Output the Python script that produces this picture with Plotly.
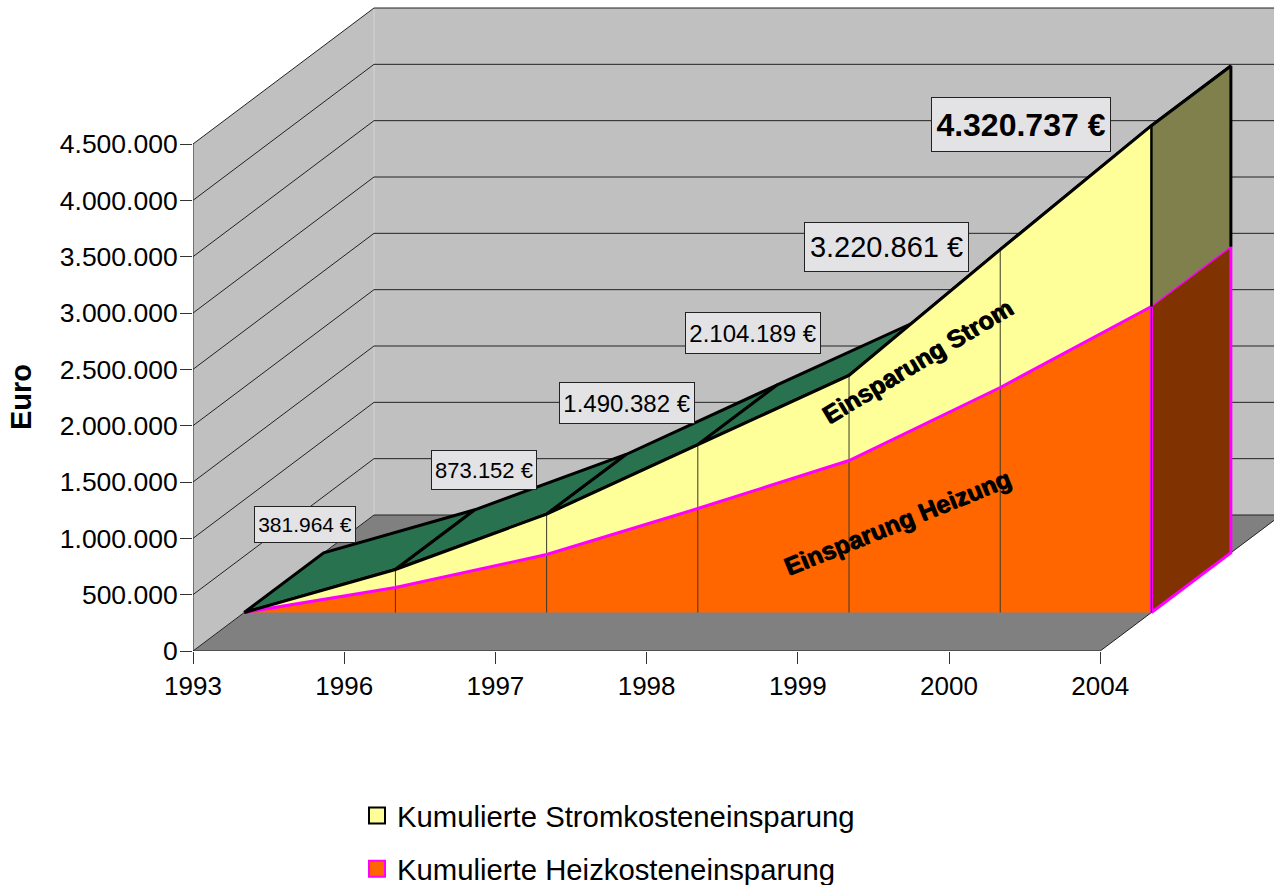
import plotly.graph_objects as go

# ---- data ----
categories = ["1993", "1996", "1997", "1998", "1999", "2000", "2004"]
total_savings = [0, 381964, 873152, 1490382, 2104189, 3220861, 4320737]
heating_savings = [0, 222000, 515000, 923000, 1349000, 1997000, 2716000]
y_ticks = [0, 500000, 1000000, 1500000, 2000000, 2500000, 3000000, 3500000, 4000000, 4500000]
y_tick_labels = ["0", "500.000", "1.000.000", "1.500.000", "2.000.000", "2.500.000",
                 "3.000.000", "3.500.000", "4.000.000", "4.500.000"]
value_labels = ["381.964 €", "873.152 €", "1.490.382 €", "2.104.189 €", "3.220.861 €", "4.320.737 €"]

# ---- pseudo-3D geometry (axis units) ----
W, H = 1274, 885
LEFT, BOTTOM_PX = 193, 651
X_UNIT = 151.2
Y_UNIT = 507 / 4500000
WALL_DX = 181 / X_UNIT
WALL_DY = 136 / Y_UNIT
D_FRONT, D_BACK = 0.283, 0.722


def pr(i, v, d):
    return i + d * WALL_DX, v + d * WALL_DY


def poly(points):
    return [p[0] for p in points], [p[1] for p in points]


def front(i, v):
    return pr(i, v, D_FRONT)


def back(i, v):
    return pr(i, v, D_BACK)


n = len(categories)
last = n - 1
fig = go.Figure()


def fill(points, color, line=None, width=0):
    x, y = poly(points + points[:1])
    fig.add_trace(go.Scatter(x=x, y=y, mode="lines", fill="toself", fillcolor=color,
                             line=dict(color=line or color, width=width), hoverinfo="skip",
                             showlegend=False))


def stroke(points, color, width):
    x, y = poly(points)
    fig.add_trace(go.Scatter(x=x, y=y, mode="lines", line=dict(color=color, width=width),
                             hoverinfo="skip", showlegend=False))


top_val = y_ticks[-1]
# walls and floor
fill([pr(0, 0, 0), pr(0, 0, 1), pr(0, top_val, 1), pr(0, top_val, 0)], "#c0c0c0")
fill([pr(0, 0, 1), pr(last, 0, 1), pr(last, top_val, 1), pr(0, top_val, 1)], "#c0c0c0")
fill([pr(0, 0, 0), pr(last, 0, 0), pr(last, 0, 1), pr(0, 0, 1)], "#808080")
stroke([pr(0, 0, 1), pr(0, top_val, 1)], "#d4d4d4", 1)

# gridlines
for t in y_ticks:
    stroke([pr(0, t, 0), pr(0, t, 1), pr(last, t, 1)], "#222222", 1)
stroke([pr(0, 0, 0), pr(0, top_val, 0)], "#222222", 1)
stroke([pr(0, 0, 0), pr(last, 0, 0), pr(last, 0, 1)], "#222222", 1)

# top surfaces
for i in range(last):
    fill([front(i, total_savings[i]), front(i + 1, total_savings[i + 1]),
          back(i + 1, total_savings[i + 1]), back(i, total_savings[i])], "#28724f", "#000000", 3)

# side faces
fill([front(last, heating_savings[last]), back(last, heating_savings[last]),
      back(last, total_savings[last]), front(last, total_savings[last])], "#80804d")
fill([front(last, 0), back(last, 0), back(last, heating_savings[last]),
      front(last, heating_savings[last])], "#803300")

# front faces
yellow = [front(i, total_savings[i]) for i in range(n)] + \
         [front(i, heating_savings[i]) for i in range(last, -1, -1)]
orange = [front(i, heating_savings[i]) for i in range(n)] + [front(last, 0), front(0, 0)]
fill(yellow, "#ffff99")
fill(orange, "#ff6600")

# drop lines
for i in range(1, last):
    stroke([front(i, 0), front(i, total_savings[i])], "#3a3a2a", 1)

# outlines
stroke([front(last, heating_savings[last]), back(last, heating_savings[last])], "#ff00ff", 1.5)
stroke([front(last, 0), back(last, 0), back(last, heating_savings[last])], "#ff00ff", 3)
stroke([front(last, 0), front(last, heating_savings[last])], "#ff00ff", 3)
stroke([front(last, 0), front(last, heating_savings[last])], "#000000", 0.7)
stroke([front(i, heating_savings[i]) for i in range(n)], "#ff00ff", 3)
stroke([front(i, total_savings[i]) for i in range(n)] +
       [back(last, total_savings[last]), back(last, heating_savings[last])], "#000000", 3)
stroke([front(last, total_savings[last]), front(last, heating_savings[last])], "#000000", 2.5)

# legend entries
fig.add_trace(go.Scatter(x=[None], y=[None], mode="markers", name="Kumulierte Stromkosteneinsparung",
                         legendgroup="a", hoverinfo="skip",
                         marker=dict(symbol="square", size=17, color="#ffff99",
                                     line=dict(color="#000000", width=2))))
fig.add_trace(go.Scatter(x=[None], y=[None], mode="markers", name="Kumulierte Heizkosteneinsparung",
                         legendgroup="b", hoverinfo="skip",
                         marker=dict(symbol="square", size=17, color="#ff6600",
                                     line=dict(color="#ff00ff", width=2))))

FONT = "Liberation Sans"
annotations = []
label_shift = [(-90, 44.5), (-63, 44), (-71, 42), (-96, 42), (-114, 3), (-130, 1.5)]
label_box = [(102, 37), (106, 40), (136, 42), (136, 42), (165, 50), (180, 55)]
label_font = [21, 22, 24, 24, 29, 32]
for k, txt in enumerate(value_labels):
    i = k + 1
    x, y = front(i, total_savings[i])
    sx, sy = label_shift[k]
    bw, bh = label_box[k]
    annotations.append(dict(
        x=x, y=y, xref="x", yref="y", xshift=sx, yshift=sy, showarrow=False,
        text=f"<b>{txt}</b>" if k == 5 else txt, width=bw - 2, height=bh - 2,
        font=dict(family=FONT, size=label_font[k], color="#000000"),
        bgcolor="#e3e3e6", bordercolor="#222222", borderwidth=1, borderpad=0,
        align="center", valign="middle", xanchor="center", yanchor="middle"))

x, y = front(4, total_savings[4])
annotations.append(dict(x=x, y=y, xref="x", yref="y", xshift=68, yshift=14, showarrow=False,
                        text="<b>Einsparung Strom</b>", textangle=-31,
                        font=dict(family=FONT, size=25, color="#000000", shadow="1px 1px 0px #000000")))
x, y = front(4, heating_savings[4])
annotations.append(dict(x=x, y=y, xref="x", yref="y", xshift=48, yshift=-61, showarrow=False,
                        text="<b>Einsparung Heizung</b>", textangle=-22,
                        font=dict(family=FONT, size=25, color="#000000", shadow="1px 1px 0px #000000")))
annotations.append(dict(x=(21 - LEFT) / (W - LEFT), y=(BOTTOM_PX - 397) / BOTTOM_PX,
                        xref="paper", yref="paper", showarrow=False, text="<b>Euro</b>", textangle=-90,
                        xanchor="center", yanchor="middle",
                        font=dict(family=FONT, size=29, color="#000000")))

fig.update_layout(
    width=W, height=H, autosize=False,
    margin=dict(l=LEFT, r=0, t=0, b=H - BOTTOM_PX, autoexpand=False),
    paper_bgcolor="#ffffff", plot_bgcolor="#ffffff",
    font=dict(family=FONT, size=26, color="#000000"),
    xaxis=dict(range=[0, (W - LEFT) / X_UNIT], tickvals=list(range(n)), ticktext=categories,
               showgrid=False, zeroline=False, showline=False, ticks="outside", ticklen=12,
               tickcolor="#333333", tickwidth=1, tickfont=dict(family=FONT, size=26)),
    yaxis=dict(range=[0, BOTTOM_PX / 507 * 4500000], tickvals=y_ticks, ticktext=y_tick_labels,
               showgrid=False, zeroline=False, showline=False, ticks="outside", ticklen=12,
               tickcolor="#333333", tickwidth=1, ticklabelstandoff=-3,
               tickfont=dict(family=FONT, size=26.5)),
    legend=dict(x=(357 - LEFT) / (W - LEFT), xanchor="left",
                y=(BOTTOM_PX - 790) / BOTTOM_PX, yanchor="top",
                font=dict(family=FONT, size=29.3, color="#000000"),
                tracegroupgap=12, traceorder="grouped", bgcolor="rgba(0,0,0,0)", borderwidth=0),
    annotations=annotations,
)

fig.write_html("out.html", config={"displayModeBar": False},
               post_script="document.body.style.margin='0';document.documentElement.style.overflow='hidden';")
